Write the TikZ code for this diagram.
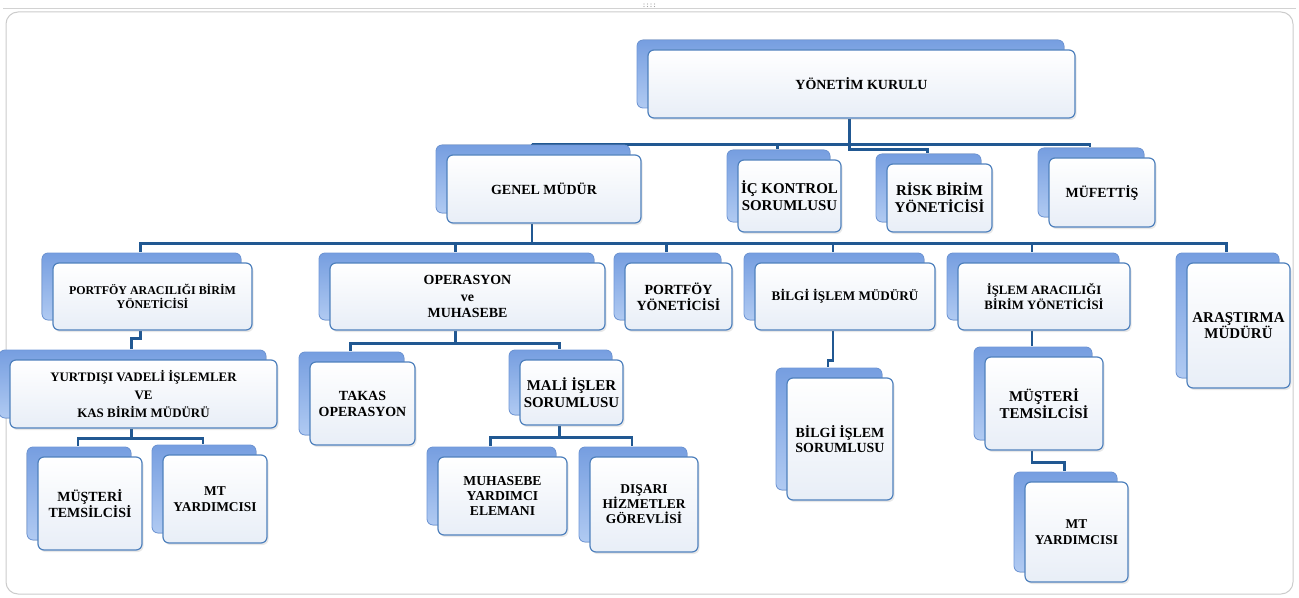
\documentclass[tikz,border=0pt]{standalone}
\usepackage{fontspec}
\setmainfont{Liberation Serif}
\usetikzlibrary{shadows,backgrounds}

\definecolor{trait}{RGB}{33,88,146}
\definecolor{bord}{RGB}{79,129,189}
\definecolor{fond}{RGB}{232,238,247}
\definecolor{dos}{RGB}{118,158,224}
\definecolor{dosclair}{RGB}{176,202,242}
\definecolor{dosbord}{RGB}{112,152,216}

\tikzset{
  boite/.style={draw=bord, line width=1.2bp, rounded corners=6bp,
    top color=white, bottom color=fond, align=center, inner sep=2bp,
    font=\bfseries\fontsize{14}{16}\selectfont,
    copy shadow={shadow xshift=-11bp, shadow yshift=10bp,
      top color=dos, bottom color=dosclair,
      draw=dosbord, line width=0.8bp},
    drop shadow={shadow xshift=1.5bp, shadow yshift=-2bp, opacity=0.18}},
  fs/.style 2 args={font=\bfseries\fontsize{#1}{#2}\selectfont},
  lien/.style={draw=trait, line width=2.4bp},
  lo/.style={xshift=-12bp},
  hi/.style={xshift=-12bp, yshift=10bp},
}

\begin{document}
\begin{tikzpicture}[x=1bp, y=-1bp]
  \useasboundingbox (0,0) rectangle (1299,598);

  % Le sommet
  \node[boite, minimum width=427bp, minimum height=68bp] (yk) at (861.5,84) {YÖNETİM KURULU};

  % Niveau 1
  \node[boite, minimum width=194bp, minimum height=68bp] (gm) at (544,189) {GENEL MÜDÜR};
  \node[boite, fs={15}{17}, minimum width=103bp, minimum height=72bp] (ic) at (789.5,196) {İÇ KONTROL\\SORUMLUSU};
  \node[boite, fs={15}{17}, minimum width=105bp, minimum height=68bp] (rk) at (939.5,198) {RİSK BİRİM\\YÖNETİCİSİ};
  \node[boite, minimum width=106bp, minimum height=69bp] (mf) at (1102,192.5) {MÜFETTİŞ};

  % Niveau 2
  \node[boite, fs={12}{14}, minimum width=199bp, minimum height=67bp] (pab) at (152.5,296.5) {PORTFÖY ARACILIĞI BİRİM\\YÖNETİCİSİ};
  \node[boite, fs={14}{16.5}, minimum width=275bp, minimum height=67bp] (opr) at (467.5,296.5) {OPERASYON\\ve\\MUHASEBE};
  \node[boite, minimum width=107bp, minimum height=67bp] (py) at (678.5,296.5) {PORTFÖY\\YÖNETİCİSİ};
  \node[boite, fs={13.2}{15}, minimum width=180bp, minimum height=67bp] (bim) at (845,296.5) {BİLGİ İŞLEM MÜDÜRÜ};
  \node[boite, fs={12.8}{15}, minimum width=172bp, minimum height=67bp] (iab) at (1044,296.5) {İŞLEM ARACILIĞI\\BİRİM YÖNETİCİSİ};
  \node[boite, fs={15}{16}, minimum width=103bp, minimum height=125bp] (ars) at (1238.5,325.5) {ARAŞTIRMA\\MÜDÜRÜ};

  % Niveau 3
  \node[boite, fs={13}{18}, minimum width=267bp, minimum height=68bp] (yurt) at (143.5,394) {YURTDIŞI VADELİ İŞLEMLER\\VE\\KAS BİRİM MÜDÜRÜ};
  \node[boite, minimum width=105bp, minimum height=83bp] (tak) at (362.5,403.5) {TAKAS\\OPERASYON};
  \node[boite, fs={15}{17}, minimum width=103bp, minimum height=65bp] (mali) at (571.5,392.5) {MALİ İŞLER\\SORUMLUSU};
  \node[boite, fs={14}{15}, minimum width=106bp, minimum height=122bp] (bis) at (840,439) {BİLGİ İŞLEM\\SORUMLUSU};
  \node[boite, fs={15}{17}, minimum width=118bp, minimum height=93bp] (mus2) at (1044,403.5) {MÜŞTERİ\\TEMSİLCİSİ};

  % Niveau 4
  \node[boite, minimum width=104bp, minimum height=93bp] (mus1) at (90,503.5) {MÜŞTERİ\\TEMSİLCİSİ};
  \node[boite, fs={13.5}{16}, minimum width=104bp, minimum height=88bp] (mty1) at (215,499) {MT\\YARDIMCISI};
  \node[boite, fs={13.7}{15.5}, minimum width=129bp, minimum height=78bp] (mye) at (502.5,496) {MUHASEBE\\YARDIMCI\\ELEMANI};
  \node[boite, fs={13.5}{15}, minimum width=108bp, minimum height=95bp] (dhg) at (644,504.5) {DIŞARI\\HİZMETLER\\GÖREVLİSİ};
  \node[boite, fs={13.5}{16}, minimum width=103bp, minimum height=100bp] (mty2) at (1076.5,532) {MT\\YARDIMCISI};

  \begin{scope}[on background layer]
    % Le cadre
    \fill[white] (0,0) rectangle (1299,598);
    \draw[gray!35, line width=0.8bp] (3,8) -- (1296,8);
    \draw[gray!40, line width=1bp, rounded corners=12bp] (6,12) rectangle (1293,594);
    \foreach \i in {0,...,3} {
      \fill[gray!70] (644+\i*3.5,4) circle (0.7);
      \fill[gray!70] (644+\i*3.5,6.5) circle (0.7);
    }

    % Les liaisons
    \draw[lien] ([lo]yk.south) -- ++(0,26) coordinate (b1);
    \foreach \n in {gm,ic,mf} \draw[lien] (b1) -| ([hi]\n.north);
    \draw[lien] (b1) -- ++(0,5) -| ([hi]rk.north);

    \draw[lien] ([lo]gm.south) -- ++(0,20) coordinate (b2);
    \foreach \n in {pab,opr,py,bim,iab,ars} \draw[lien] (b2) -| ([hi]\n.north);

    \draw[lien] ([lo]pab.south) -- ++(0,8) -| ([hi]yurt.north);
    \draw[lien] ([lo]opr.south) -- ++(0,13) coordinate (b3);
    \foreach \n in {tak,mali} \draw[lien] (b3) -| ([hi]\n.north);
    \draw[lien] ([lo]bim.south) -- ++(0,30) -| ([hi]bis.north);
    \draw[lien] ([lo]iab.south) -- ([hi]mus2.north);

    \draw[lien] ([lo]yurt.south) -- ++(0,10) coordinate (b4);
    \foreach \n in {mus1,mty1} \draw[lien] (b4) -| ([hi]\n.north);
    \draw[lien] ([lo]mali.south) -- ++(0,12) coordinate (b5);
    \foreach \n in {mye,dhg} \draw[lien] (b5) -| ([hi]\n.north);
    \draw[lien] ([lo]mus2.south) -- ++(0,12) -| ([hi]mty2.north);
  \end{scope}
\end{tikzpicture}
\end{document}
